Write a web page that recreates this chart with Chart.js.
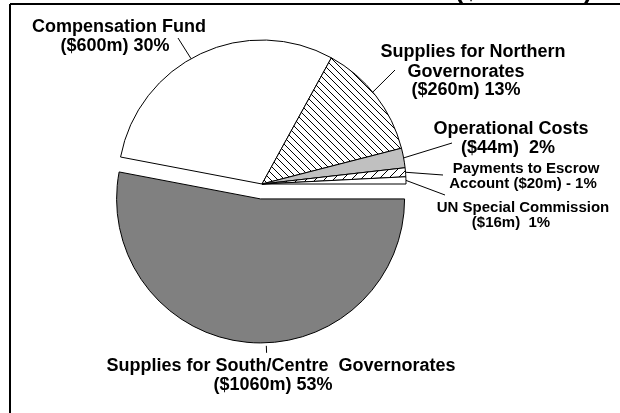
<!DOCTYPE html>
<html><head><meta charset="utf-8">
<script src="https://cdn.jsdelivr.net/npm/chart.js@4"></script>
<style>html,body{margin:0;padding:0;background:#fff;overflow:hidden}canvas{display:block}</style>
</head><body>
<canvas id="c" width="620" height="413"></canvas>
<script>
// ---- data ----
const categories = ["Compensation Fund", "Supplies for Northern Governorates", "Operational Costs",
  "Payments to Escrow Account", "UN Special Commission", "Supplies for South/Centre Governorates"];
const amounts = [600, 260, 44, 20, 16, 1060];          // $ million
const percents = [30, 13, 2, 1, 1, 53];
const labelLines = [
  ["Compensation Fund", "($600m) 30%"],
  ["Supplies for Northern", "Governorates", "($260m) 13%"],
  ["Operational Costs", "($44m)  2%"],
  ["Payments to Escrow", "Account ($20m) - 1%"],
  ["UN Special Commission", "($16m)  1%"],
  ["Supplies for South/Centre  Governorates", "($1060m) 53%"]
];
const titleText = "($ millions)";

// ---- styling / layout (not data) ----
const FONT = '"Liberation Sans", Arial, Helvetica, sans-serif';
const EXPLODE = [0, 0, 0, 0, 0, 15];
const LAYOUT = [
  {size: 18, xs: [119, 115], ys: [27, 46], end: [178, 38], at: 0.46, gap: 0},
  {size: 18, xs: [473, 466, 466], ys: [52, 72, 90], end: [395, 70], at: 0.46, gap: 0},
  {size: 18, xs: [511, 508], ys: [129, 148], end: [452, 143], at: 0.5, gap: 0},
  {size: 15, xs: [526, 523], ys: [169, 184], end: [443, 175], at: 0.5, gap: 0},
  {size: 15, xs: [523, 511], ys: [208, 223], end: [445, 195], at: 0.5, gap: 0},
  {size: 18, xs: [281, 273], ys: [366, 385], end: null, tick: 7, at: 0.46, gap: 3}
];

function hatch(size, dir) {
  const cv = document.createElement('canvas');
  cv.width = size; cv.height = size;
  const g = cv.getContext('2d');
  g.fillStyle = '#fff'; g.fillRect(0, 0, size, size);
  g.strokeStyle = '#000'; g.lineWidth = 1;
  g.beginPath();
  if (dir === '\\') {
    g.moveTo(-1, -1); g.lineTo(size + 1, size + 1);
    g.moveTo(-1, size - 1); g.lineTo(1, size + 1);
    g.moveTo(size - 1, -1); g.lineTo(size + 1, 1);
  } else {
    g.moveTo(-1, size + 1); g.lineTo(size + 1, -1);
    g.moveTo(-1, 1); g.lineTo(1, -1);
    g.moveTo(size - 1, size + 1); g.lineTo(size + 1, size - 1);
  }
  g.stroke();
  return g.createPattern(cv, 'repeat');
}

const ctx = document.getElementById('c').getContext('2d');
const fills = ['#ffffff', hatch(7, '\\'), '#c0c0c0', hatch(9, '/'), '#ffffff', '#808080'];

const explodePlugin = {
  id: 'explode',
  afterDatasetUpdate(chart, args) {
    const meta = chart.getDatasetMeta(args.index);
    meta.data.forEach((el, i) => {
      const d = EXPLODE[i];
      if (!d) return;
      const mid = (el.startAngle + el.endAngle) / 2;
      el.x += Math.cos(mid) * d;
      el.y += Math.sin(mid) * d;
    });
  }
};

const decorPlugin = {
  id: 'decor',
  beforeDraw(chart) {
    const c = chart.ctx;
    c.save(); c.fillStyle = '#fff'; c.fillRect(0, 0, chart.width, chart.height); c.restore();
  },
  afterDraw(chart) {
    const c = chart.ctx;
    const meta = chart.getDatasetMeta(0);
    c.save();
    c.strokeStyle = '#000'; c.lineWidth = 1; c.fillStyle = '#000';
    c.textAlign = 'center'; c.textBaseline = 'middle';
    meta.data.forEach((el, i) => {
      const L = LAYOUT[i];
      const a = el.startAngle + (el.endAngle - el.startAngle) * L.at;
      const r0 = el.outerRadius + L.gap;
      const sx = el.x + Math.cos(a) * r0, sy = el.y + Math.sin(a) * r0;
      c.beginPath();
      c.moveTo(sx, sy);
      if (L.end) c.lineTo(L.end[0], L.end[1]);
      else c.lineTo(sx + Math.cos(a) * L.tick, sy + Math.sin(a) * L.tick);
      c.stroke();
      c.font = 'bold ' + L.size + 'px ' + FONT;
      labelLines[i].forEach((t, k) => c.fillText(t, L.xs[k], L.ys[k]));
    });
    // frame (cropped)
    c.lineWidth = 2;
    c.beginPath();
    c.moveTo(10, 4); c.lineTo(chart.width, 4);
    c.moveTo(10, 4); c.lineTo(10, chart.height);
    c.stroke();
    // cropped title above frame
    c.font = 'bold 26px ' + FONT;
    c.textAlign = 'left'; c.textBaseline = 'alphabetic';
    c.fillText(titleText, 455, -1.5);
    c.restore();
  }
};

new Chart(ctx, {
  type: 'pie',
  data: {
    labels: categories,
    datasets: [{
      data: amounts,
      backgroundColor: fills,
      borderColor: '#000',
      borderWidth: 1,
      hoverOffset: 0
    }]
  },
  options: {
    responsive: false,
    animation: false,
    events: [],
    rotation: -79.2,
    radius: 144,
    layout: {padding: {left: 0, right: 96, top: 0, bottom: 45}},
    plugins: {legend: {display: false}, tooltip: {enabled: false}, title: {display: false}}
  },
  plugins: [explodePlugin, decorPlugin]
});
</script>
</body></html>
